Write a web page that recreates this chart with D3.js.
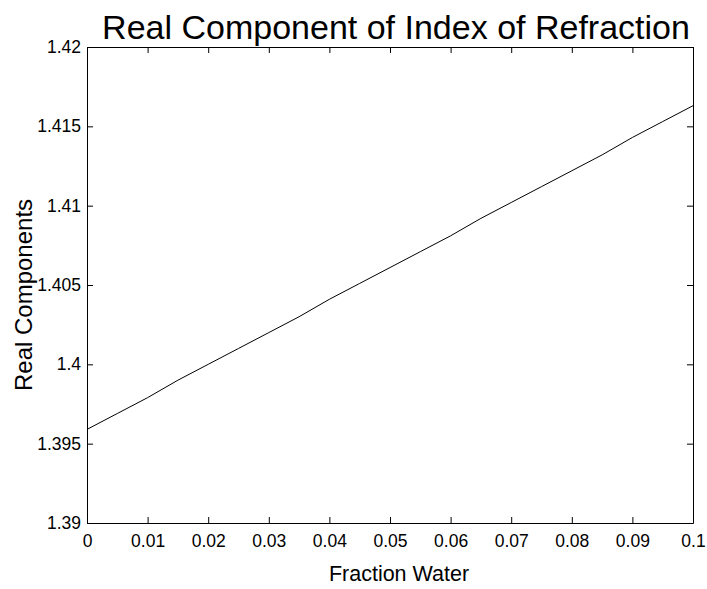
<!DOCTYPE html>
<html>
<head>
<meta charset="utf-8">
<script src="https://cdn.jsdelivr.net/npm/d3@7"></script>
<style>
  html, body { margin: 0; padding: 0; background: #fff; }
  svg { display: block; font-family: "Liberation Sans", Arial, sans-serif; }
</style>
</head>
<body>
<svg id="chart" width="707" height="589"></svg>
<script>
// Fraction of water vs. real part of the refractive index
const fractionWater = [0, 0.005, 0.01, 0.015, 0.02, 0.025, 0.03, 0.035, 0.04, 0.045, 0.05,
                       0.055, 0.06, 0.065, 0.07, 0.075, 0.08, 0.085, 0.09, 0.095, 0.1];
const realComponent = [1.3959, 1.3969, 1.3979, 1.3990, 1.4000, 1.4010, 1.4020, 1.4030, 1.4041, 1.4051, 1.4061,
                       1.4071, 1.4081, 1.4092, 1.4102, 1.4112, 1.4122, 1.4132, 1.4143, 1.4153, 1.4163];
const xTicks = [0, 0.01, 0.02, 0.03, 0.04, 0.05, 0.06, 0.07, 0.08, 0.09, 0.1];
const yTicks = [1.39, 1.395, 1.4, 1.405, 1.41, 1.415, 1.42];

const svg = d3.select("#chart");
const plotLeft = 87, plotRight = 693, plotTop = 47, plotBottom = 523;
const x = d3.scaleLinear().domain([0, 0.1]).range([plotLeft, plotRight]);
const y = d3.scaleLinear().domain([1.39, 1.42]).range([plotBottom, plotTop]);
const tickLen = 6;
const fmt = d => String(+d.toFixed(4));

// bottom axis with labels, ticks pointing into the plot
const gx = svg.append("g").attr("transform", `translate(0,${plotBottom})`)
  .call(d3.axisBottom(x).tickValues(xTicks).tickFormat(fmt).tickSizeInner(-tickLen).tickSizeOuter(0).tickPadding(12));
// left axis with labels
const gy = svg.append("g").attr("transform", `translate(${plotLeft},0)`)
  .call(d3.axisLeft(y).tickValues(yTicks).tickFormat(fmt).tickSizeInner(-tickLen).tickSizeOuter(0).tickPadding(6));
// top and right axes: ticks only
const gt = svg.append("g").attr("transform", `translate(0,${plotTop})`)
  .call(d3.axisTop(x).tickValues(xTicks).tickFormat("").tickSizeInner(-tickLen).tickSizeOuter(0));
const gr = svg.append("g").attr("transform", `translate(${plotRight},0)`)
  .call(d3.axisRight(y).tickValues(yTicks).tickFormat("").tickSizeInner(-tickLen).tickSizeOuter(0));

[gx, gy, gt, gr].forEach(g => {
  g.selectAll(".domain").attr("stroke", "#000").attr("stroke-width", 1);
  g.selectAll(".tick line").attr("stroke", "#000").attr("stroke-width", 1);
  g.selectAll(".tick text").attr("fill", "#000").attr("font-size", 17.5)
    .attr("font-family", "Liberation Sans, Arial, sans-serif");
});

// data line
svg.append("path")
  .datum(fractionWater.map((f, i) => [f, realComponent[i]]))
  .attr("fill", "none")
  .attr("stroke", "#000")
  .attr("stroke-width", 1)
  .attr("d", d3.line().x(d => x(d[0])).y(d => y(d[1])));

// title and axis labels
svg.append("text")
  .attr("x", 396).attr("y", 39)
  .attr("text-anchor", "middle").attr("font-size", 34).attr("fill", "#000")
  .text("Real Component of Index of Refraction");
svg.append("text")
  .attr("x", 399).attr("y", 581)
  .attr("text-anchor", "middle").attr("font-size", 21.5).attr("fill", "#000")
  .text("Fraction Water");
svg.append("text")
  .attr("transform", `translate(32,295) rotate(-90)`)
  .attr("text-anchor", "middle").attr("font-size", 24).attr("fill", "#000")
  .text("Real Components");
</script>
</body>
</html>
